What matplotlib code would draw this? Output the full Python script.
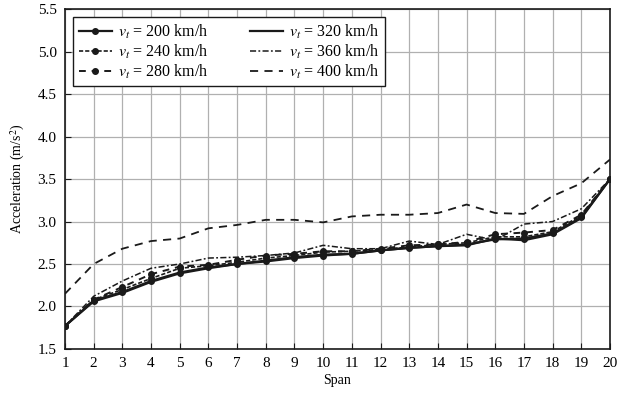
import numpy as np
import matplotlib
matplotlib.use('Agg')
import matplotlib.pyplot as plt

plt.rcParams['font.family'] = ['Liberation Serif', 'DejaVu Serif']
plt.rcParams['mathtext.fontset'] = 'stix'

span = np.arange(1, 21)

a_200 = [1.77, 2.07, 2.17, 2.30, 2.40, 2.46, 2.50, 2.53, 2.57, 2.60, 2.62, 2.66, 2.69, 2.71, 2.73, 2.79, 2.80, 2.86, 3.05, 3.50]
a_240 = [1.77, 2.08, 2.20, 2.33, 2.45, 2.48, 2.52, 2.57, 2.60, 2.64, 2.65, 2.67, 2.70, 2.73, 2.75, 2.82, 2.82, 2.88, 3.07, 3.50]
a_280 = [1.77, 2.08, 2.23, 2.38, 2.47, 2.49, 2.55, 2.60, 2.62, 2.65, 2.65, 2.68, 2.72, 2.73, 2.76, 2.85, 2.87, 2.90, 3.08, 3.50]
a_320 = [1.77, 2.06, 2.16, 2.29, 2.39, 2.45, 2.50, 2.54, 2.58, 2.61, 2.62, 2.66, 2.69, 2.71, 2.72, 2.80, 2.78, 2.85, 3.04, 3.50]
a_360 = [1.77, 2.12, 2.30, 2.45, 2.50, 2.57, 2.58, 2.60, 2.63, 2.72, 2.68, 2.68, 2.77, 2.73, 2.85, 2.78, 2.97, 3.00, 3.15, 3.50]
a_400 = [2.15, 2.50, 2.68, 2.77, 2.80, 2.92, 2.96, 3.02, 3.02, 2.99, 3.06, 3.08, 3.08, 3.10, 3.20, 3.10, 3.09, 3.30, 3.45, 3.73]

fig = plt.figure(figsize=(6.25, 3.97), dpi=100)
ax = fig.add_axes([0.104, 0.121, 0.872, 0.856])

k = '#1a1a1a'
ax.plot(span, a_200, color=k, lw=1.6, ls='-', marker='o', ms=4, label=r'$v_t$ = 200 km/h')
ax.plot(span, a_240, color=k, lw=1.2, ls=(0, (2.5, 1.2)), marker='o', ms=4, label=r'$v_t$ = 240 km/h')
ax.plot(span, a_280, color=k, lw=1.4, ls=(0, (3.5, 3)), marker='o', ms=4, label=r'$v_t$ = 280 km/h')
ax.plot(span, a_320, color=k, lw=1.6, ls='-', label=r'$v_t$ = 320 km/h')
ax.plot(span, a_360, color=k, lw=1.1, ls=(0, (4, 1.5, 1.2, 1.5)), label=r'$v_t$ = 360 km/h')
ax.plot(span, a_400, color=k, lw=1.3, ls=(0, (4.5, 3.5)), label=r'$v_t$ = 400 km/h')

ax.set_xlim(1, 20)
ax.set_ylim(1.5, 5.5)
ax.set_xticks(span)
ax.set_yticks(np.arange(1.5, 5.51, 0.5))
ax.grid(True, color='#b0b0b0', lw=0.9)
ax.tick_params(direction='in', length=4, labelsize=11, color=k, pad=6)
for s in ax.spines.values():
    s.set_color(k)
    s.set_linewidth(1.2)

ax.set_xlabel('Span', fontsize=10, labelpad=3)
ax.set_ylabel('Acceleration (m/s$^2$)', fontsize=10, labelpad=8)

leg = ax.legend(loc='upper left', ncol=2, fontsize=11.5, frameon=True, fancybox=False,
                edgecolor=k, framealpha=1, handlelength=2.1, columnspacing=2.6,
                labelspacing=0.12, borderaxespad=0.5, handletextpad=0.35, borderpad=0.35)
leg.get_frame().set_linewidth(1.0)

fig.savefig('out.png', dpi=100)
